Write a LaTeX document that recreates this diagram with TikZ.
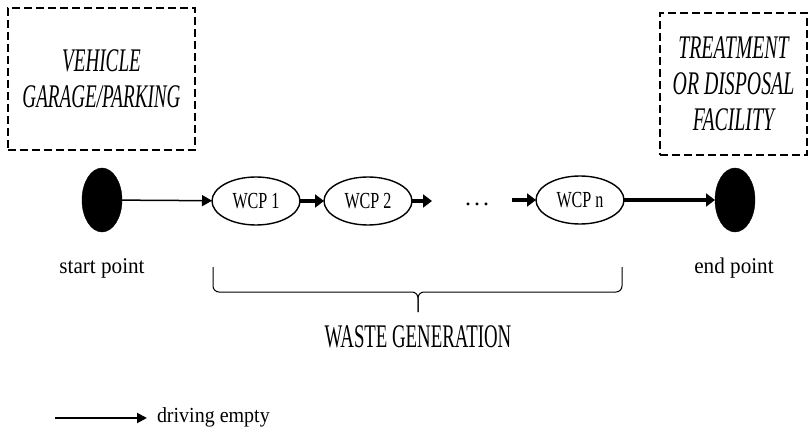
\documentclass[tikz,border=0pt]{standalone}
\usepackage{graphicx}
\usepackage{fontspec}
\setmainfont{Liberation Serif}
\usetikzlibrary{arrows.meta,shapes.geometric}
% horizontally condensed text
\newcommand{\hsq}[2]{\scalebox{#1}[1]{#2}}
\begin{document}
\begin{tikzpicture}[x=1pt,y=-1pt,
  every node/.style={inner sep=0pt,outer sep=0pt},
  dashbox/.style={draw,line width=2.6pt,dash pattern=on 8pt off 4pt,
    font=\fontsize{33}{36}\selectfont\itshape,align=center},
  endpt/.style={ellipse,fill=black,draw=black,minimum width=40pt,minimum height=64pt},
  wcp/.style={ellipse,draw,line width=1.4pt,minimum width=88pt,minimum height=48pt,
    font=\fontsize{23}{24}\selectfont},
  thinarrow/.style={line width=1.5pt,-{Triangle[length=10pt,width=11pt]}},
  thickarrow/.style={line width=3.6pt,-{Triangle[length=9pt,width=13pt]}},
  lbl/.style={font=\fontsize{22.5}{24}\selectfont,anchor=base},
]
\useasboundingbox (0,0) rectangle (809,433);

% locations at both ends of the route
\node[dashbox,minimum width=187pt,minimum height=142pt] (garage) at (101.5,79)
  {\hsq{0.58}{VEHICLE}\\\hsq{0.58}{GARAGE/PARKING}};
\node[dashbox,minimum width=147pt,minimum height=142pt] (facility) at (733.5,84)
  {\hsq{0.6}{TREATMENT}\\\hsq{0.6}{OR DISPOSAL}\\\hsq{0.6}{FACILITY}};

% route
\node[endpt] (start) at (102,200) {};
\node[endpt] (end) at (735,200) {};
\node[wcp] (w1) at (256,201) {\hsq{0.7}{WCP 1}};
\node[wcp] (w2) at (368,201) {\hsq{0.7}{WCP 2}};
\node[wcp] (wn) at (580,200) {\hsq{0.7}{WCP n}};
\node[font=\fontsize{24}{24}\selectfont,anchor=base] (dots) at (477,205) {.\kern3pt.\kern3pt.};
\coordinate (gapin) at (432,201);
\coordinate (gapout) at (512,200);

\draw[thinarrow] (start) -- (w1);
\draw[thickarrow] (w1) -- (w2);
\draw[thickarrow] (w2.east) -- (gapin);
\draw[thickarrow] (gapout) -- (wn.west);
\draw[thickarrow] (wn) -- (end);

\node[lbl] (startlbl) at (102,273) {\hsq{0.94}{start point}};
\node[lbl] (endlbl) at (734,273) {\hsq{0.94}{end point}};

% brace over the collection points
\coordinate (bl) at (213,267);
\coordinate (br) at (622,267);
\coordinate (btip) at (418,312);
\draw[line width=1pt,rounded corners=6pt] (bl) -- (213,292) -- (418,292) -- (btip);
\draw[line width=1pt,rounded corners=6pt] (br) -- (622,292) -- (418,292) -- (btip);
\node[font=\fontsize{33}{36}\selectfont,anchor=base] (waste) at (418,347)
  {\hsq{0.57}{WASTE GENERATION}};

% legend
\coordinate (legA) at (55,418);
\coordinate (legB) at (147,418);
\draw[line width=2pt,-{Triangle[length=10pt,width=10pt]}] (legA) -- (legB);
\node[font=\fontsize{21.5}{24}\selectfont,anchor=base west] (legtxt) at (157,422)
  {\hsq{0.93}{driving empty}};
\end{tikzpicture}
\end{document}
